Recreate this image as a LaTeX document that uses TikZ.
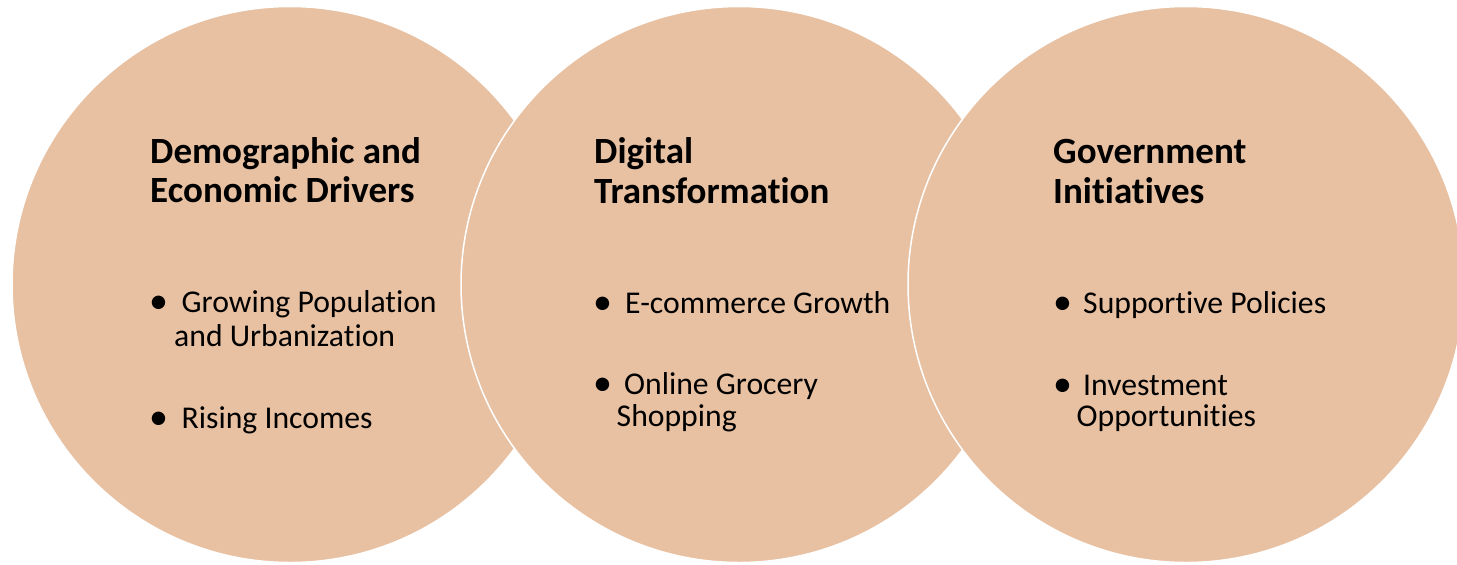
\documentclass[tikz,border=0pt]{standalone}
\usepackage{fontspec}
\setmainfont{Carlito}[Ligatures=NoCommon]
\definecolor{tan}{HTML}{E8C1A2}
\tikzset{
  venn/.style={circle, fill=tan, draw=white, line width=1.5pt, minimum size=556pt, inner sep=0pt},
  ttl/.style={anchor=base west, inner sep=0pt, font=\fontsize{37}{40}\selectfont\bfseries},
  txt/.style={anchor=base west, inner sep=0pt, font=\fontsize{31.7}{34}\selectfont},
  bul/.style={anchor=base west, inner sep=0pt, font=\fontsize{38}{34}\selectfont}
}
\begin{document}
\begin{tikzpicture}[x=1pt,y=-1pt]
\useasboundingbox (0,0) rectangle (1457,565);
\node[venn] (c1) at (290,284.5) {};
\node[venn] (c2) at (739,284.5) {};
\node[venn] (c3) at (1186,284.5) {};
% circle 1
\node[ttl] (t1a) at (150,163.3) {Demographic and};
\node[ttl] (t1b) at (150,202.7) {Economic Drivers};
\node[bul] (b1a) at (149,313) {•};
\node[txt] (l1a) at (181.5,312) {Growing Population};
\node[txt] (l1b) at (174,346.5) {and Urbanization};
\node[bul] (b1b) at (149,429.3) {•};
\node[txt] (l1c) at (181.5,428.3) {Rising Incomes};
% circle 2
\node[ttl] (t2a) at (594,163.3) {Digital};
\node[ttl] (t2b) at (594,203.5) {Transformation};
\node[bul] (b2a) at (593,314) {•};
\node[txt] (l2a) at (625,313) {E-commerce Growth};
\node[bul] (b2b) at (593,395.3) {•};
\node[txt] (l2b) at (624,394.3) {Online Grocery};
\node[txt] (l2c) at (616.5,426.7) {Shopping};
% circle 3
\node[ttl] (t3a) at (1053,163.3) {Government};
\node[ttl] (t3b) at (1053,203.5) {Initiatives};
\node[bul] (b3a) at (1053,314) {•};
\node[txt] (l3a) at (1083,313) {Supportive Policies};
\node[bul] (b3b) at (1053,396) {•};
\node[txt] (l3b) at (1083,395) {Investment};
\node[txt] (l3c) at (1076.5,426.7) {Opportunities};
\end{tikzpicture}
\end{document}
